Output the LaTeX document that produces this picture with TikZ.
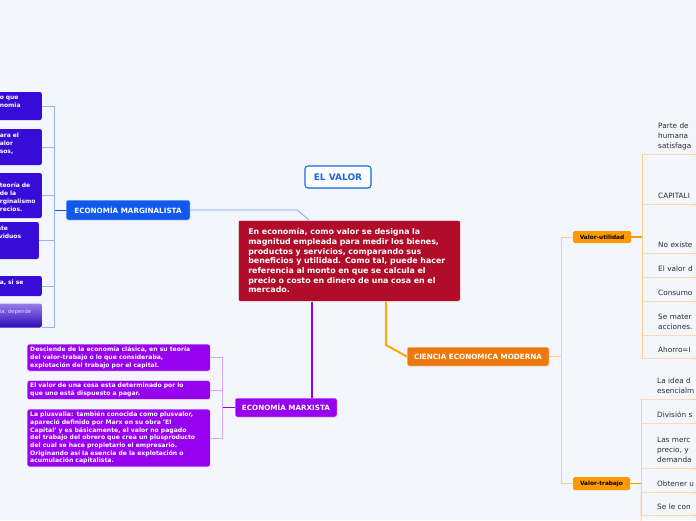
\documentclass[tikz,border=0pt]{standalone}
\usepackage{fontspec}
\setmainfont{DejaVu Sans}
\usetikzlibrary{positioning, calc, shadows}

\definecolor{paper}{RGB}{243,246,253}
\definecolor{vino}{RGB}{177,13,42}
\definecolor{azulmarg}{RGB}{16,88,238}
\definecolor{indigo}{RGB}{56,12,216}
\definecolor{lilamarx}{RGB}{152,0,240}
\definecolor{naranja}{RGB}{238,120,16}
\definecolor{ambar}{RGB}{255,153,0}
\definecolor{azulclaro}{RGB}{150,182,250}
\definecolor{lilaclaro}{RGB}{210,168,242}
\definecolor{naranjaclaro}{RGB}{255,206,145}
\definecolor{textogris}{RGB}{45,45,45}
\definecolor{azultitulo}{RGB}{22,104,230}

\begin{document}
\begin{tikzpicture}[
		x=1pt,
		y=-1pt,
		sombra/.style={drop shadow={shadow xshift=0.6pt, shadow yshift=-0.9pt, fill=black!22}},
		tema/.style={rounded corners=2pt, draw=white, line width=0.5pt, sombra, text=white, inner sep=0pt, font=\fontsize{7.2}{8}\selectfont\bfseries},
		hoja/.style={rounded corners=2pt, fill=indigo, anchor=east, text=white, text width=40pt, align=left, inner xsep=2pt, inner ysep=0pt, font=\fontsize{6}{8}\selectfont\bfseries},
		idea/.style={rounded corners=2pt, draw=white, line width=0.4pt, fill=lilamarx, anchor=north west, text=white, text width=177pt, align=left, inner xsep=3pt, inner ysep=2.6pt, font=\fontsize{6.1}{7.7}\selectfont\bfseries},
		etiq/.style={rounded corners=1.5pt, fill=ambar, text=black, inner sep=0pt, font=\fontsize{5.8}{7}\selectfont\bfseries},
		nota/.style={anchor=south west, text=textogris, text width=70pt, align=left, inner xsep=16pt, inner ysep=2.5pt, execute at end node=\strut, font=\fontsize{7.3}{10}\selectfont},
		rama/.style={line width=0.8pt}
		]
		% Fondo
		\path[use as bounding box, fill=paper] (0,0) rectangle (696,520);
		\clip (0,0) rectangle (696,520);
		
		% Titulo y nodo central
		\node[tema, fill=white, draw=azultitulo, line width=1.1pt, text=azultitulo, minimum width=66pt, minimum height=22pt, rounded corners=3pt, font=\fontsize{9}{10}\selectfont\bfseries] (titulo) at (338,177) {EL VALOR};
		\node[tema, fill=vino, anchor=north west, minimum height=81pt, text width=202pt, inner xsep=10pt, align=left, font=\fontsize{7.9}{9.7}\selectfont\bfseries] (valor) at (238,220)
		{En economía, como valor se designa la\\magnitud empleada para medir los bienes,\\productos y servicios, comparando sus\\beneficios y utilidad. Como tal, puede hacer\\referencia al monto en que se calcula el\\precio o costo en dinero de una cosa en el\\mercado.};
		
		% Ramas principales
		\node[tema, fill=azulmarg, minimum width=124pt, minimum height=20pt] (marg) at (128,210) {ECONOMÍA MARGINALISTA};
		\node[tema, fill=lilamarx, minimum width=102pt, minimum height=19pt] (marx) at (286,407.5) {ECONOMÍA MARXISTA};
		\node[tema, fill=naranja, minimum width=142pt, minimum height=19pt] (ciencia) at (478,356.5) {CIENCIA ECONOMICA MODERNA};
		
		\coordinate (marg-in) at ($(valor.north west)+(71,0)$);
		\coordinate (marx-in) at ($(marx.north)+(26,0)$);
		\coordinate (ciencia-codo) at (386,345);
		\draw[azulclaro!80!azulmarg, rama] (marg.east) -- ++(107,0) -- (marg-in);
		\draw[lilamarx, line width=2.6pt] (valor.south -| marx-in) -- (marx-in);
		\draw[ambar!85!yellow, line width=2pt] (valor.south -| ciencia-codo) -- (ciencia-codo) -- (ciencia.west);
		
		% Marginalista
		\node[hoja, minimum height=28pt] (m1) at (42,106) {o que\\nomia\\\mbox{}};
		\node[hoja, minimum height=36pt] (m2) at (42,147) {ara el\\alor\\sos,\\\mbox{}};
		\node[hoja, minimum height=45pt] (m3) at (42,195.5) {\mbox{}\\teoría de\\de la\\rginalismo\\recios.};
		\node[hoja, minimum height=37pt] (m4) at (39,240.5) {nte\\ividuos\\\mbox{}\\\mbox{}};
		\node[hoja, minimum height=20pt] (m5) at (42,286) {a, si se\\\mbox{}};
		\node[hoja, minimum height=24pt, fill=none, top color=indigo!45!white!85!indigo, bottom color=indigo!85!black, text=white!85!indigo, font=\fontsize{5.3}{8}\selectfont] (m6) at (42,315.5) {ia, depende\\\mbox{}};
		
		\draw[azulmarg, rama] (marg.west) -- ++(-11,0);
		\foreach \h in {m1,m2,m3,m4,m5}
			\draw[azulclaro, rama] (marg.west) ++(-11,0) |- (\h.east);
		\draw[azulclaro, rama] (marg.west) ++(-11,0) |- (m6.south east);
		
		% Marxista
		\node[idea] (x1) at (27,344) {Desciende de la economía clásica, en su teoría\\del valor-trabajo o lo que consideraba,\\explotación del trabajo por el capital.};
		\node[idea] (x2) at (27,380.5) {El valor de una cosa esta determinado por lo\\que uno está dispuesto a pagar.};
		\node[idea] (x3) at (27,409) {La plusvalia: también conocida como plusvalor,\\apareció definido por Marx en su obra 'El\\Capital' y es básicamente, el valor no pagado\\del trabajo del obrero que crea un plusproducto\\del cual se hace propietario el empresario.\\Originando así la esencia de la explotación o\\acumulación capitalista.};
		
		\draw[lilamarx, rama] (marx.west) -- ++(-12,0);
		\foreach \h in {x1,x2,x3}
			\draw[lilaclaro, rama] (marx.west) ++(-12,0) |- (\h.east);
		
		% Ciencia economica moderna
		\node[etiq, minimum width=58pt, minimum height=12pt] (vu) at (602,237) {Valor-utilidad};
		\node[etiq, minimum width=57pt, minimum height=13pt] (vt) at (601.5,483.5) {Valor-trabajo};
		
		\foreach \h in {vu,vt}
			\draw[naranjaclaro, rama] (ciencia.east) -- ++(12,0) |- (\h.west);
		
		\node[nota] (u1) at (642,154) {Parte de\\humana\\satisfaga};
		\node[nota] (u2) at (642,204) {CAPITALI};
		\node[nota] (u3) at (642,253) {No existe};
		\node[nota] (u4) at (642,277) {El valor d};
		\node[nota] (u5) at (642,301) {Consumo};
		\node[nota] (u6) at (642,335) {Se mater\\acciones.};
		\node[nota] (u7) at (642,358) {Ahorro=I};
		
		\draw[ambar, line width=1.2pt] (vu.east) -- ++(11,0);
		\foreach \h in {u1,u2,u3,u4,u5,u6,u7}
			\draw[naranjaclaro, rama] (vu.east) ++(11,0) |- (\h.south west) -- (\h.south east);
		
		\node[nota] (t1) at (641,399) {La idea d\\esencialm};
		\node[nota] (t2) at (641,423) {División s};
		\node[nota] (t3) at (641,468) {Las merc\\precio, y\\demanda};
		\node[nota] (t4) at (641,492) {Obtener u};
		\node[nota] (t5) at (641,515) {Se le con};
		\coordinate (t-sigue) at (641,530);
		
		\draw[ambar, line width=1.2pt] (vt.east) -- ++(11,0);
		\foreach \h in {t1,t2,t3,t4,t5}
			\draw[naranjaclaro, rama] (vt.east) ++(11,0) |- (\h.south west) -- (\h.south east);
		\draw[naranjaclaro, rama] (vt.east) ++(11,0) -- (t-sigue);
	\end{tikzpicture}
\end{document}
